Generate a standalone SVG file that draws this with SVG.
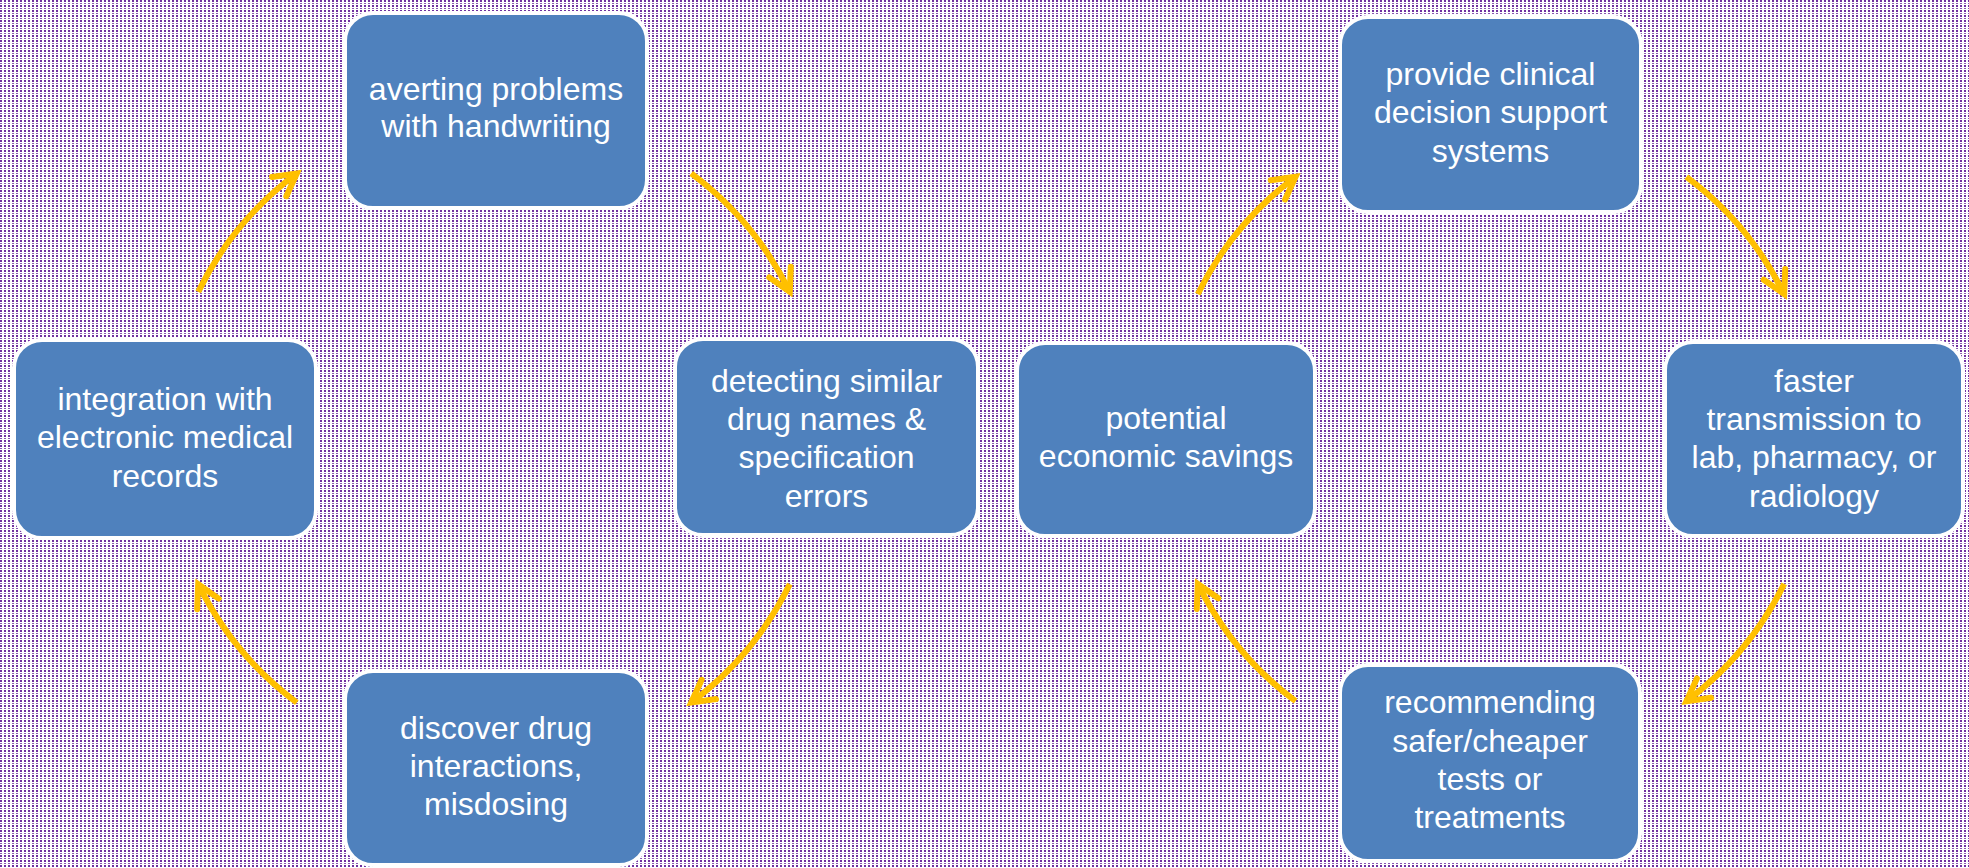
<svg xmlns="http://www.w3.org/2000/svg" width="1969" height="868" viewBox="0 0 1969 868">
<defs>
<pattern id="dots" x="0" y="0" width="4" height="5" patternUnits="userSpaceOnUse">
<rect x="0" y="0" width="4" height="5" fill="#ffffff"/>
<rect x="0" y="0" width="2" height="2" fill="#7030A0"/>
<rect x="0" y="3" width="2" height="1" fill="#8A55B2"/>
</pattern>
<marker id="head" markerUnits="userSpaceOnUse" markerWidth="40" markerHeight="40" viewBox="-30 -20 40 40" refX="0" refY="0" orient="auto" overflow="visible">
<path d="M -22 -12 L 0 0 L -22 12" fill="none" stroke="#FFC000" stroke-width="6" stroke-linecap="round" stroke-linejoin="miter"/>
</marker>
<style>
.box{fill:#4F81BD;stroke:#ffffff;stroke-width:4}
.lbl{font-family:"Liberation Sans",Arial,sans-serif;font-size:32px;fill:#ffffff;text-anchor:middle}
.arr{fill:none;stroke:#FFC000;stroke-width:6;stroke-linecap:butt;marker-end:url(#head)}
</style>
</defs>
<rect x="0" y="0" width="1969" height="868" fill="url(#dots)"/>

<g id="connectors">
<path class="arr" d="M 198.2 291.8 A 330 330 0 0 1 296.8 173.4"/>
<path class="arr" d="M 691.2 173.4 A 330 330 0 0 1 789.8 291.8"/>
<path class="arr" d="M 789.8 584.2 A 330 330 0 0 1 691.2 702.6"/>
<path class="arr" d="M 296.8 702.6 A 330 330 0 0 1 198.2 584.2"/>
<path class="arr" d="M 1197.8 294.1 A 327 327 0 0 1 1295.6 176.8"/>
<path class="arr" d="M 1686.4 176.8 A 327 327 0 0 1 1784.2 294.1"/>
<path class="arr" d="M 1784.2 583.9 A 327 327 0 0 1 1686.4 701.2"/>
<path class="arr" d="M 1295.6 701.2 A 327 327 0 0 1 1197.8 583.9"/>
</g>

<g id="averting">
<rect class="box" x="345" y="13" width="302" height="195" rx="28"/>
<text class="lbl" x="496" y="100">averting problems</text>
<text class="lbl" x="496" y="137">with handwriting</text>
</g>

<g id="detecting">
<rect class="box" x="675" y="339" width="303" height="196" rx="28"/>
<text class="lbl" x="826.5" y="392">detecting similar</text>
<text class="lbl" x="826.5" y="430">drug names &amp;</text>
<text class="lbl" x="826.5" y="468">specification</text>
<text class="lbl" x="826.5" y="507">errors</text>
</g>

<g id="discover">
<rect class="box" x="345" y="671" width="302" height="194" rx="28"/>
<text class="lbl" x="496" y="739">discover drug</text>
<text class="lbl" x="496" y="777">interactions,</text>
<text class="lbl" x="496" y="815">misdosing</text>
</g>

<g id="integration">
<rect class="box" x="14" y="340" width="302" height="198" rx="28"/>
<text class="lbl" x="165" y="410">integration with</text>
<text class="lbl" x="165" y="448">electronic medical</text>
<text class="lbl" x="165" y="487">records</text>
</g>

<g id="provide">
<rect class="box" x="1340" y="17" width="301" height="195" rx="28"/>
<text class="lbl" x="1490.5" y="85">provide clinical</text>
<text class="lbl" x="1490.5" y="123">decision support</text>
<text class="lbl" x="1490.5" y="162">systems</text>
</g>

<g id="faster">
<rect class="box" x="1665" y="342" width="298" height="194" rx="28"/>
<text class="lbl" x="1814" y="392">faster</text>
<text class="lbl" x="1814" y="430">transmission to</text>
<text class="lbl" x="1814" y="468">lab, pharmacy, or</text>
<text class="lbl" x="1814" y="507">radiology</text>
</g>

<g id="recommending">
<rect class="box" x="1340" y="665" width="300" height="196" rx="28"/>
<text class="lbl" x="1490" y="713">recommending</text>
<text class="lbl" x="1490" y="752">safer/cheaper</text>
<text class="lbl" x="1490" y="790">tests or</text>
<text class="lbl" x="1490" y="828">treatments</text>
</g>

<g id="potential">
<rect class="box" x="1017" y="343" width="298" height="193" rx="28"/>
<text class="lbl" x="1166" y="429">potential</text>
<text class="lbl" x="1166" y="467">economic savings</text>
</g>
</svg>
